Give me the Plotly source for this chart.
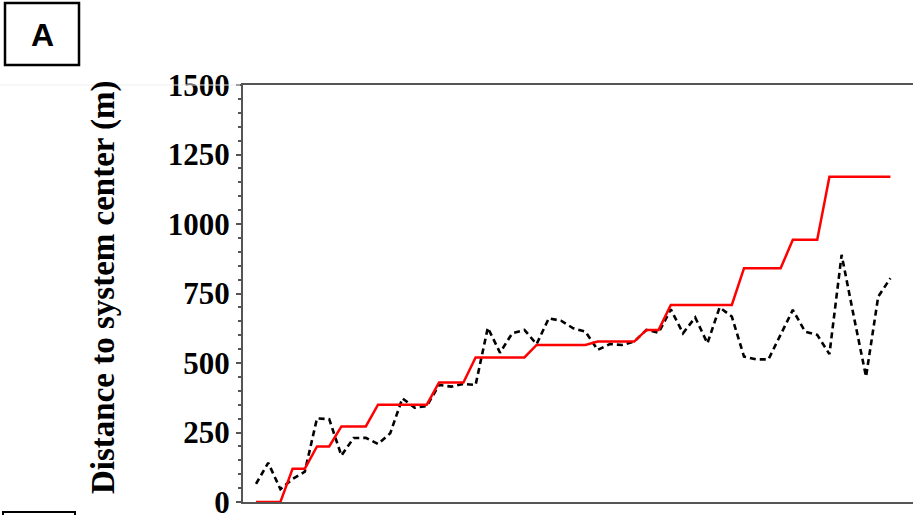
import plotly.graph_objects as go

# ---- data ----
time_index = list(range(53))
system_distance = [0, 0, 0, 120, 120, 200, 200, 272, 272, 272,
                   350, 350, 350, 350, 350, 430, 430, 430, 520, 520,
                   520, 520, 520, 565, 565, 565, 565, 565, 577, 577,
                   577, 577, 619, 619, 709, 709, 709, 709, 709, 709,
                   841, 841, 841, 841, 943, 943, 943, 1170, 1170, 1170,
                   1170, 1170, 1170]
observed_distance = [65, 141, 46, 83, 109, 301, 298, 167, 230, 231,
                     209, 247, 373, 339, 345, 421, 415, 425, 421, 627,
                     537, 607, 619, 568, 661, 652, 625, 613, 547, 568,
                     565, 577, 619, 609, 693, 607, 664, 571, 700, 667,
                     523, 513, 513, 601, 691, 613, 601, 532, 889, 667,
                     451, 739, 805]
y_ticks = [0, 250, 500, 750, 1000, 1250, 1500]
y_title = "Distance to system center (m)"
panel_label = "A"

# ---- layout geometry (pixels) ----
W, H = 913, 515
L, R, T, B = 243, 0, 85, 13
PW, PH = W - L - R, H - T - B


def px(xp):
    return (xp - L) / PW


def py(yp):
    return (H - B - yp) / PH


fig = go.Figure()
fig.add_trace(go.Scatter(x=time_index, y=observed_distance, mode="lines",
                         line=dict(color="black", width=2.6, dash="6px,4px"),
                         cliponaxis=False, hoverinfo="skip"))
fig.add_trace(go.Scatter(x=time_index, y=system_distance, mode="lines",
                         line=dict(color="#ff0000", width=2.5),
                         cliponaxis=False, hoverinfo="skip"))

fig.update_layout(
    width=W, height=H,
    margin=dict(l=L, r=R, t=T, b=B, pad=0, autoexpand=False),
    plot_bgcolor="white", paper_bgcolor="white",
    showlegend=False,
    xaxis=dict(range=[-1.066, 53.85], showline=True, linecolor="#555",
               linewidth=2, mirror=True, showticklabels=False, ticks="",
               showgrid=False, zeroline=False),
    yaxis=dict(range=[0, 1500], tickvals=y_ticks, ticks="outside", ticklen=5,
               tickwidth=1.5, tickcolor="#555", showline=True,
               linecolor="#555", linewidth=2, showgrid=False, zeroline=False,
               automargin=False, ticklabeloverflow="allow",
               tickfont=dict(family="Liberation Serif", size=31,
                             color="black", weight="bold"),
               minor=dict(dtick=50, ticks="outside", ticklen=3,
                          tickcolor="#555", showgrid=False)),
)

fig.add_annotation(text=y_title, textangle=-90, xref="paper", yref="paper",
                   x=px(103), y=py(287), xanchor="center", yanchor="middle",
                   showarrow=False,
                   font=dict(family="Liberation Serif", size=33,
                             color="black", weight="bold"))

fig.add_shape(type="rect", xref="paper", yref="paper",
              x0=px(5), x1=px(79), y0=py(65), y1=py(3),
              line=dict(color="black", width=2.5))
fig.add_annotation(text=panel_label, xref="paper", yref="paper",
                   x=px(42), y=py(35), xanchor="center", yanchor="middle",
                   showarrow=False,
                   font=dict(family="Liberation Sans", size=32,
                             color="black", weight="bold"))

fig.add_shape(type="rect", xref="paper", yref="paper",
              x0=px(3), x1=px(75), y0=py(540), y1=py(512),
              line=dict(color="black", width=2))
fig.add_shape(type="line", xref="paper", yref="paper",
              x0=px(0), x1=px(240), y0=py(85), y1=py(85),
              line=dict(color="#eeeeee", width=1))

fig.write_html("out.html",
               config={"displayModeBar": False},
               post_script="document.body.style.margin='0';"
                           "document.body.style.overflow='hidden';")
